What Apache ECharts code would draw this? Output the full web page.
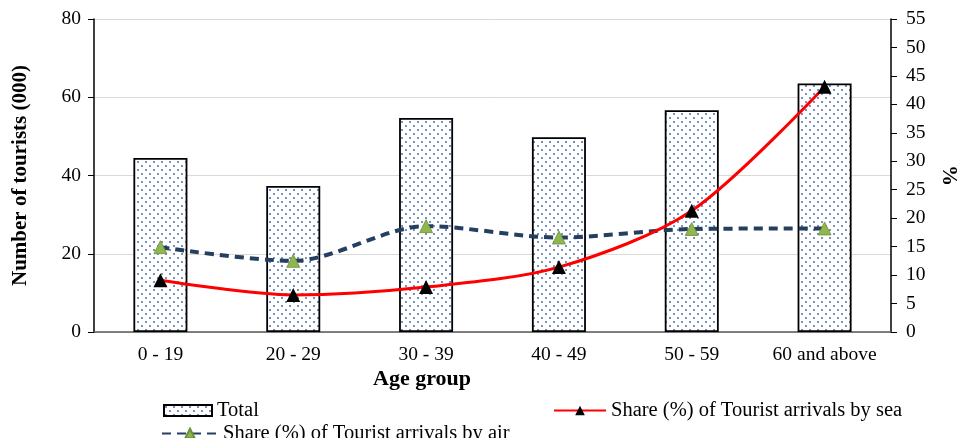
<!DOCTYPE html>
<html>
<head>
<meta charset="utf-8">
<script src="https://cdn.jsdelivr.net/npm/echarts@6/dist/echarts.min.js"></script>
<style>
  html, body { margin: 0; padding: 0; background: #fff; }
  #chart { width: 957px; height: 438px; }
</style>
</head>
<body>
<div id="chart"></div>
<script>
// Tourist arrivals by age group
var categories = ['0 - 19', '20 - 29', '30 - 39', '40 - 49', '50 - 59', '60 and above'];
var totalTourists = [44.5, 37.3, 54.7, 49.8, 56.7, 63.5];   // thousands
var shareSea = [9.1, 6.5, 7.9, 11.4, 21.3, 43.1];            // %
var shareAir = [14.9, 12.5, 18.6, 16.6, 18.1, 18.2];         // %
var leftTicks = { min: 0, max: 80, interval: 20 };
var rightTicks = { min: 0, max: 55, interval: 5 };

// Dotted fill for the bars
function dotPattern() {
  var c = document.createElement('canvas');
  c.width = 8; c.height = 8;
  var g = c.getContext('2d');
  g.fillStyle = '#ffffff';
  g.fillRect(0, 0, 8, 8);
  g.fillStyle = '#7592c0';
  g.fillRect(1, 1, 2, 2);
  g.fillRect(5, 5, 2, 2);
  return c;
}

var serif = 'Liberation Serif, Times New Roman, serif';
var chart = echarts.init(document.getElementById('chart'), null, { renderer: 'canvas' });

chart.setOption({
  animation: false,
  textStyle: { fontFamily: serif, color: '#000' },
  grid: { left: 94, right: 66, top: 19, bottom: 106, containLabel: false, outerBoundsMode: 'none' },
  legend: [
    { data: [{ name: 'Total', icon: 'rect' }], left: 158, top: 395, itemWidth: 48, itemHeight: 11, itemGap: 6,
      textStyle: { fontFamily: serif, fontSize: 20.5, color: '#000' } },
    { data: ['Share (%) of Tourist arrivals by sea'], left: 548, top: 395, itemWidth: 52, itemHeight: 12,
      textStyle: { fontFamily: serif, fontSize: 20.5, color: '#000' } },
    { data: ['Share (%) of Tourist arrivals by air'], left: 156, top: 418, itemWidth: 56, itemHeight: 12,
      textStyle: { fontFamily: serif, fontSize: 20.5, color: '#000' } }
  ],
  graphic: [
    { type: 'text', left: 373, top: 368,
      style: { text: 'Age group', font: 'bold 22px ' + serif, fill: '#000' } }
  ],
  xAxis: {
    type: 'category',
    data: categories,
    axisLine: { lineStyle: { color: '#595959', width: 1.5 } },
    axisTick: { show: false },
    axisLabel: { fontFamily: serif, fontSize: 19.5, color: '#000', margin: 13, interval: 0, hideOverlap: false }
  },
  yAxis: [
    {
      type: 'value', min: leftTicks.min, max: leftTicks.max, interval: leftTicks.interval,
      name: 'Number of tourists (000)', nameLocation: 'middle', nameGap: 63, nameRotate: 90,
      nameTextStyle: { fontFamily: serif, fontSize: 21, fontWeight: 'bold', color: '#000' },
      axisLine: { show: true, lineStyle: { color: '#000', width: 1.5 } },
      axisTick: { show: true, length: 6, lineStyle: { color: '#000' } },
      axisLabel: { fontFamily: serif, fontSize: 19.5, color: '#000', margin: 13 },
      splitLine: { show: true, lineStyle: { color: '#d9d9d9', width: 1 } }
    },
    {
      type: 'value', position: 'right', min: rightTicks.min, max: rightTicks.max, interval: rightTicks.interval,
      name: '%', nameLocation: 'middle', nameGap: 47, nameRotate: -90,
      nameTextStyle: { fontFamily: serif, fontSize: 21, fontWeight: 'bold', color: '#000' },
      axisLine: { show: true, lineStyle: { color: '#000', width: 1.5 } },
      axisTick: { show: true, length: 6, lineStyle: { color: '#000' } },
      axisLabel: { fontFamily: serif, fontSize: 19.5, color: '#000', margin: 15 },
      splitLine: { show: false }
    }
  ],
  series: [
    {
      name: 'Total', type: 'bar', yAxisIndex: 0, data: totalTourists, barWidth: 54,
      itemStyle: { color: { image: dotPattern(), repeat: 'repeat' }, borderColor: '#000', borderWidth: 1.8 }
    },
    {
      name: 'Share (%) of Tourist arrivals by air', type: 'line', yAxisIndex: 1, data: shareAir,
      smooth: 0.3, symbol: 'triangle', symbolSize: 13, z: 3,
      lineStyle: { color: '#243f60', width: 4, type: [9, 6] },
      itemStyle: { color: '#8fb64f', borderColor: '#6f8f3a', borderWidth: 0.8 }
    },
    {
      name: 'Share (%) of Tourist arrivals by sea', type: 'line', yAxisIndex: 1, data: shareSea,
      smooth: 0.3, symbol: 'triangle', symbolSize: 14, z: 4,
      lineStyle: { color: '#ff0000', width: 3 },
      itemStyle: { color: '#000' }
    }
  ]
});
</script>
</body>
</html>
